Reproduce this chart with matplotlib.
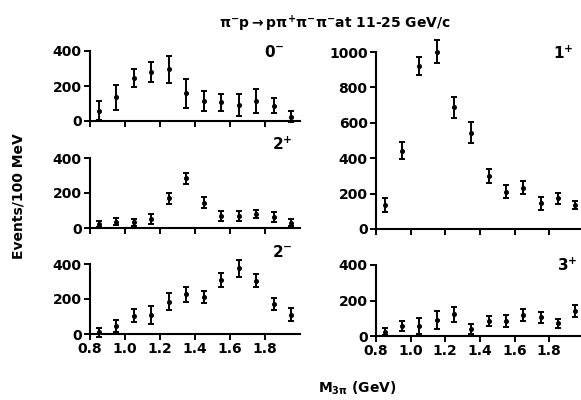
import numpy as np
from matplotlib import pyplot as plt

plt.rcParams['font.family'] = ['DejaVu Sans']
plt.rcParams['font.weight'] = 'bold'
plt.rcParams['mathtext.fontset'] = 'dejavusans'
plt.rcParams['mathtext.default'] = 'bf'

# bin centres of M(3pi), 100 MeV bins
mass = [0.85, 0.95, 1.05, 1.15, 1.25, 1.35, 1.45, 1.55, 1.65, 1.75, 1.85, 1.95]

# events / 100 MeV and errors for each J^P wave
wave_0m = [60, 135, 248, 280, 295, 158, 116, 107, 91, 114, 86, 25]
err_0m = [57, 73, 52, 55, 76, 83, 57, 48, 62, 68, 43, 30]

wave_2p = [23, 36, 32, 51, 170, 284, 145, 69, 70, 82, 65, 30]
err_2p = [19, 20, 20, 30, 32, 32, 32, 28, 28, 22, 28, 20]

wave_2m = [10, 46, 105, 109, 185, 227, 213, 309, 375, 305, 171, 109]
err_2m = [25, 33, 36, 53, 50, 42, 35, 38, 48, 39, 35, 37]

wave_1p = [136, 443, 921, 1002, 687, 544, 299, 211, 234, 145, 173, 136]
err_1p = [40, 49, 52, 66, 58, 58, 38, 38, 35, 35, 31, 25]

wave_3p = [24, 56, 56, 90, 122, 39, 85, 85, 118, 105, 71, 141]
err_3p = [19, 26, 45, 49, 42, 28, 30, 34, 35, 31, 26, 35]

mass_ticks = [0.8, 1.0, 1.2, 1.4, 1.6, 1.8]


def panel(fig, rect, y, e, ymax, yticks, label, label_pos, show_x):
    ax = fig.add_axes(rect)
    ax.errorbar(mass, y, yerr=e, fmt='o', ms=2.6, color='k', ecolor='k',
                elinewidth=1.4, capsize=2.2, capthick=1.4, clip_on=False)
    ax.set_xlim(0.8, 2.0)
    ax.set_ylim(0, ymax)
    for s in ['top', 'right']:
        ax.spines[s].set_visible(False)
    for s in ['left', 'bottom']:
        ax.spines[s].set_linewidth(1.5)
    ax.set_xticks(mass_ticks)
    ax.set_yticks(yticks)
    ax.tick_params(direction='out', length=4, width=1.4, labelsize=10, pad=2)
    if show_x:
        ax.set_xticklabels([f'{t:.1f}' for t in mass_ticks])
    else:
        ax.set_xticklabels([])
    ax.text(label_pos[0], label_pos[1], label, transform=ax.transAxes,
            ha='center', va='center', fontsize=11)
    return ax


fig = plt.figure(figsize=(5.81, 4.0), dpi=100)

panel(fig, [0.155, 0.6975, 0.361, 0.175], wave_0m, err_0m, 400, [0, 200, 400],
      r'0$^{-}$', (0.88, 0.99), False)
panel(fig, [0.155, 0.43, 0.361, 0.175], wave_2p, err_2p, 400, [0, 200, 400],
      r'2$^{+}$', (0.915, 1.19), False)
panel(fig, [0.155, 0.165, 0.361, 0.175], wave_2m, err_2m, 400, [0, 200, 400],
      r'2$^{-}$', (0.915, 1.17), True)
panel(fig, [0.647, 0.4275, 0.358, 0.4425], wave_1p, err_1p, 1000,
      [0, 200, 400, 600, 800, 1000], r'1$^{+}$', (0.90, 0.99), False)
panel(fig, [0.647, 0.16, 0.358, 0.1775], wave_3p, err_3p, 400, [0, 200, 400],
      r'3$^{+}$', (0.92, 1.0), True)

fig.text(0.577, 0.94, r'$\pi^{-}$p$\rightarrow$p$\pi^{+}\pi^{-}\pi^{-}$at 11-25 GeV/c',
         ha='center', va='center', fontsize=10)
fig.text(0.031, 0.51, 'Events/100 MeV', rotation=90, ha='center', va='center',
         fontsize=10)
fig.text(0.615, 0.03, r'M$_{3\pi}$ (GeV)', ha='center', va='center',
         fontsize=10)

fig.savefig('out.png', dpi=100)
